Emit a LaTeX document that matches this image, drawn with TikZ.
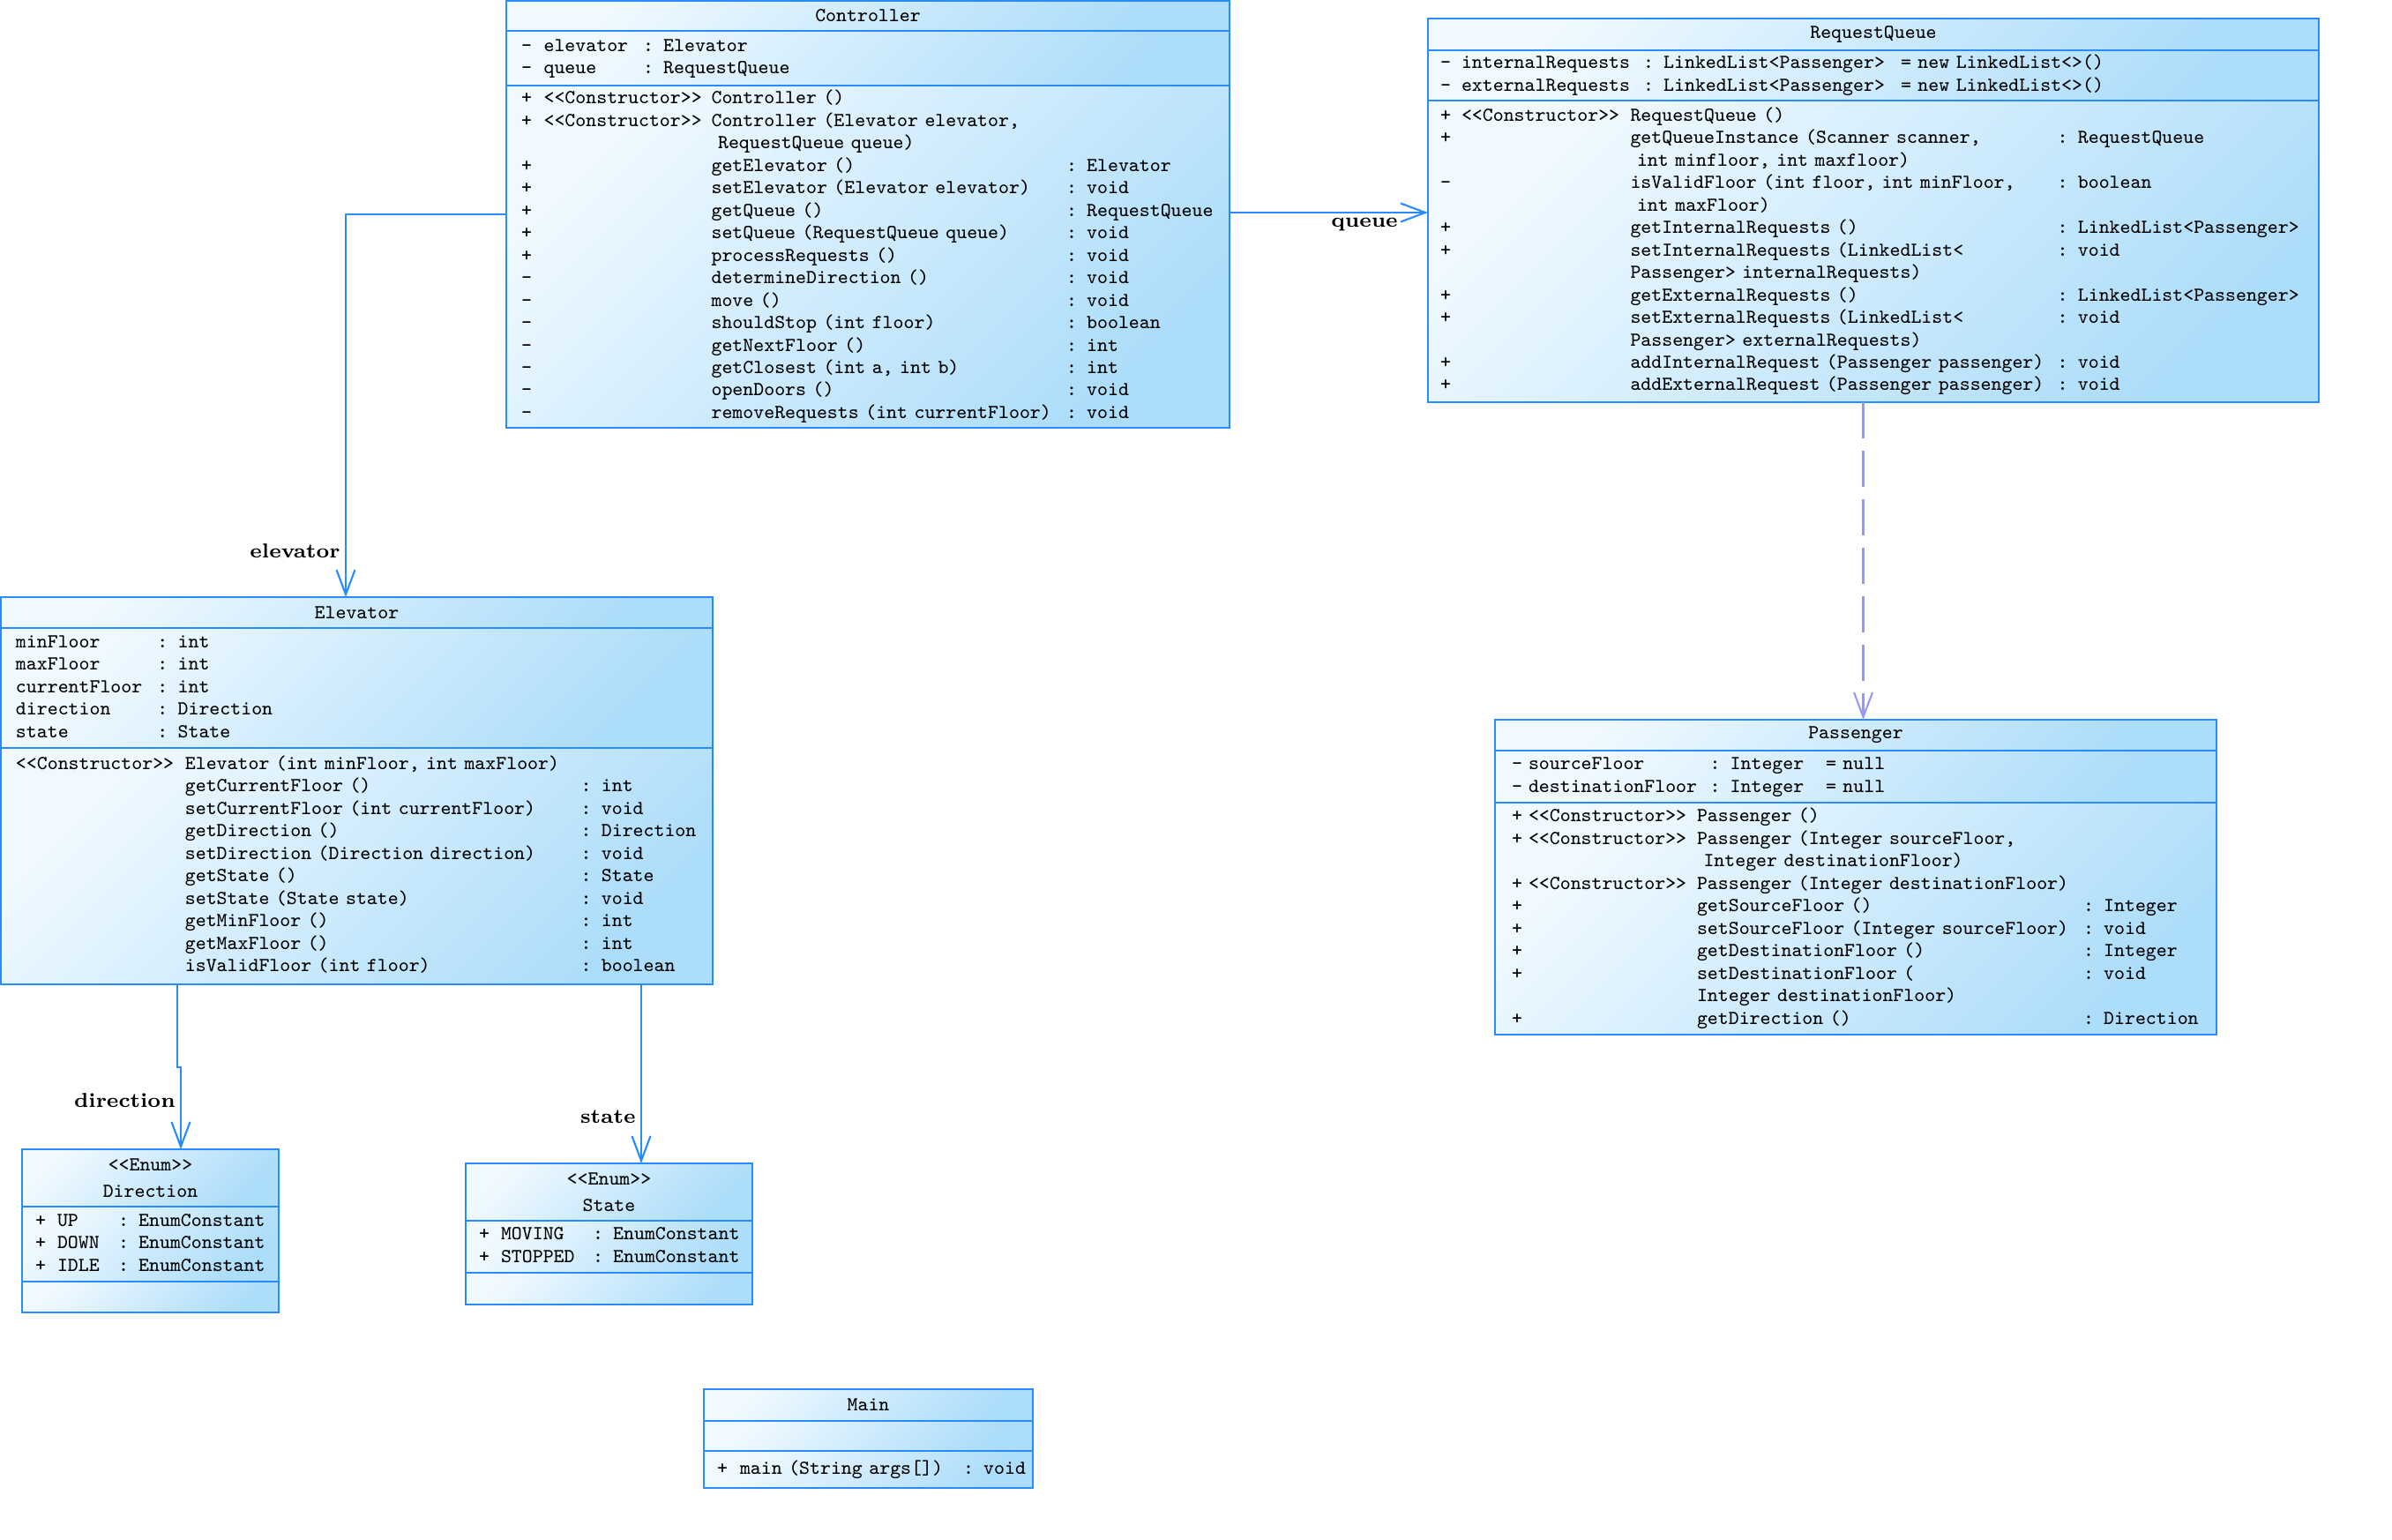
\documentclass[tikz,border=0pt]{standalone}
\usepackage{fontspec}
\usepackage{array}
\usepackage{xcolor}
\usepackage{tikz}
\usetikzlibrary{positioning,arrows.meta,calc}

\definecolor{umlblue}{RGB}{40,140,255}
\definecolor{umllight}{RGB}{240,249,255}
\definecolor{umldark}{RGB}{172,221,250}
\definecolor{deplav}{RGB}{150,150,255}
\newcommand{\umlfont}{\fontsize{6.4}{7.25}\selectfont\ttfamily\spaceskip=3.36pt\relax}
\newcommand{\lblfont}{\fontsize{6.5}{7.25}\selectfont\rmfamily\bfseries}
\newcommand{\stereo}[1]{<\kern0pt<#1>\kern0pt>}
\setlength{\parindent}{0pt}
\setlength{\tabcolsep}{0pt}

\begin{document}
\begin{tikzpicture}[font=\umlfont, >={Straight Barb[length=2.8mm,width=2.1mm]},
  cpt/.style={draw=umlblue, line width=0.8pt, top color=umllight, bottom color=umldark,
    shading angle=45, outer sep=0pt, inner ysep=0pt, align=left},
  ttl/.style={cpt, inner xsep=0pt, align=center},
  assoc/.style={->, draw=umlblue, line width=0.6pt},
  dep/.style={->, draw=deplav, line width=0.6pt, dash pattern=on 4.1mm off 1.4mm},
  lbl/.style={font=\lblfont, inner sep=1.5pt}]
\useasboundingbox (0,0) rectangle (27.12,-17.46);

% Controller
\node[ttl, text width=8.20cm, minimum height=0.34cm, anchor=north west] (ctrl-title) at (5.74,-0.01) {Controller};
\node[cpt, inner xsep=0.17cm, text width=7.86cm, minimum height=0.62cm, below=0pt of ctrl-title] (ctrl-attr) {%
  \begin{tabular}{w{l}{0.256cm}w{l}{1.124cm}l}
  - & elevator & : Elevator\\
  - & queue & : RequestQueue
  \end{tabular}};
\node[cpt, inner xsep=0.17cm, text width=7.86cm, minimum height=3.88cm, below=0pt of ctrl-attr] (ctrl-ops) {%
  \begin{tabular}{w{l}{0.256cm}w{l}{1.90cm}w{l}{4.024cm}l}
  + & \stereo{Constructor} & Controller () & \\
  + & \stereo{Constructor} & Controller (Elevator elevator, & \\
    & & \ RequestQueue queue) & \\
  + & & getElevator () & : Elevator\\
  + & & setElevator (Elevator elevator) & : void\\
  + & & getQueue () & : RequestQueue\\
  + & & setQueue (RequestQueue queue) & : void\\
  + & & processRequests () & : void\\
  - & & determineDirection () & : void\\
  - & & move () & : void\\
  - & & shouldStop (int floor) & : boolean\\
  - & & getNextFloor () & : int\\
  - & & getClosest (int a, int b) & : int\\
  - & & openDoors () & : void\\
  - & & removeRequests (int currentFloor) & : void
  \end{tabular}};

% RequestQueue
\node[ttl, text width=10.10cm, minimum height=0.36cm, anchor=north west] (rq-title) at (16.19,-0.21) {RequestQueue};
\node[cpt, inner xsep=0.14cm, text width=9.82cm, minimum height=0.57cm, below=0pt of rq-title] (rq-attr) {%
  \begin{tabular}{w{l}{0.24cm}w{l}{2.06cm}w{l}{2.92cm}l}
  - & internalRequests & : LinkedList<Passenger> & = new LinkedList<>()\\
  - & externalRequests & : LinkedList<Passenger> & = new LinkedList<>()
  \end{tabular}};
\node[cpt, inner xsep=0.14cm, text width=9.82cm, minimum height=3.42cm, below=0pt of rq-attr] (rq-ops) {%
  \begin{tabular}{w{l}{0.24cm}w{l}{1.915cm}w{l}{4.842cm}l}
  + & \stereo{Constructor} & RequestQueue () & \\
  + & & getQueueInstance (Scanner scanner, & : RequestQueue\\
    & & \ int minfloor, int maxfloor) & \\
  - & & isValidFloor (int floor, int minFloor, & : boolean\\
    & & \ int maxFloor) & \\
  + & & getInternalRequests () & : LinkedList<Passenger>\\
  + & & setInternalRequests (LinkedList< & : void\\
    & & Passenger> internalRequests) & \\
  + & & getExternalRequests () & : LinkedList<Passenger>\\
  + & & setExternalRequests (LinkedList< & : void\\
    & & Passenger> externalRequests) & \\
  + & & addInternalRequest (Passenger passenger) & : void\\
  + & & addExternalRequest (Passenger passenger) & : void
  \end{tabular}};

% Elevator
\node[ttl, text width=8.07cm, minimum height=0.35cm, anchor=north west] (elev-title) at (0.01,-6.77) {Elevator};
\node[cpt, inner xsep=0.17cm, text width=7.73cm, minimum height=1.36cm, below=0pt of elev-title] (elev-attr) {%
  \begin{tabular}{w{l}{1.605cm}l}
  minFloor & : int\\
  maxFloor & : int\\
  currentFloor & : int\\
  direction & : Direction\\
  state & : State
  \end{tabular}};
\node[cpt, inner xsep=0.17cm, text width=7.73cm, minimum height=2.68cm, below=0pt of elev-attr] (elev-ops) {%
  \begin{tabular}{w{l}{1.919cm}w{l}{4.488cm}l}
  \stereo{Constructor} & Elevator (int minFloor, int maxFloor) & \\
  & getCurrentFloor () & : int\\
  & setCurrentFloor (int currentFloor) & : void\\
  & getDirection () & : Direction\\
  & setDirection (Direction direction) & : void\\
  & getState () & : State\\
  & setState (State state) & : void\\
  & getMinFloor () & : int\\
  & getMaxFloor () & : int\\
  & isValidFloor (int floor) & : boolean
  \end{tabular}};

% Passenger
\node[ttl, text width=8.18cm, minimum height=0.35cm, anchor=north west] (pass-title) at (16.95,-8.16) {Passenger};
\node[cpt, inner xsep=0.19cm, text width=7.80cm, minimum height=0.59cm, below=0pt of pass-title] (pass-attr) {%
  \begin{tabular}{w{l}{0.19cm}w{l}{2.055cm}w{l}{1.315cm}l}
  - & sourceFloor & : Integer & = null\\
  - & destinationFloor & : Integer & = null
  \end{tabular}};
\node[cpt, inner xsep=0.19cm, text width=7.80cm, minimum height=2.63cm, below=0pt of pass-attr] (pass-ops) {%
  \begin{tabular}{w{l}{0.19cm}w{l}{1.91cm}w{l}{4.38cm}l}
  + & \stereo{Constructor} & Passenger () & \\
  + & \stereo{Constructor} & Passenger (Integer sourceFloor, & \\
    & & \ Integer destinationFloor) & \\
  + & \stereo{Constructor} & Passenger (Integer destinationFloor) & \\
  + & & getSourceFloor () & : Integer\\
  + & & setSourceFloor (Integer sourceFloor) & : void\\
  + & & getDestinationFloor () & : Integer\\
  + & & setDestinationFloor ( & : void\\
    & & Integer destinationFloor) & \\
  + & & getDirection () & : Direction
  \end{tabular}};

% Direction
\node[ttl, text width=2.91cm, minimum height=0.65cm, anchor=north west] (dir-title) at (0.25,-13.03) {\stereo{Enum}\\[0.05cm]Direction};
\node[cpt, inner xsep=0.15cm, text width=2.61cm, minimum height=0.85cm, below=0pt of dir-title] (dir-attr) {%
  \begin{tabular}{w{l}{0.25cm}w{l}{0.69cm}l}
  + & UP & : EnumConstant\\
  + & DOWN & : EnumConstant\\
  + & IDLE & : EnumConstant
  \end{tabular}};
\node[cpt, inner xsep=0.15cm, text width=2.61cm, minimum height=0.35cm, below=0pt of dir-attr] (dir-ops) {};

% State
\node[ttl, text width=3.25cm, minimum height=0.65cm, anchor=north west] (state-title) at (5.28,-13.19) {\stereo{Enum}\\[0.05cm]State};
\node[cpt, inner xsep=0.15cm, text width=2.95cm, minimum height=0.59cm, below=0pt of state-title] (state-attr) {%
  \begin{tabular}{w{l}{0.25cm}w{l}{1.04cm}l}
  + & MOVING & : EnumConstant\\
  + & STOPPED & : EnumConstant
  \end{tabular}};
\node[cpt, inner xsep=0.15cm, text width=2.95cm, minimum height=0.36cm, below=0pt of state-attr] (state-ops) {};

% Main
\node[ttl, text width=3.73cm, minimum height=0.36cm, anchor=north west] (main-title) at (7.98,-15.75) {Main};
\node[cpt, inner xsep=0.15cm, text width=3.43cm, minimum height=0.34cm, below=0pt of main-title] (main-attr) {};
\node[cpt, inner xsep=0.15cm, text width=3.43cm, minimum height=0.42cm, below=0pt of main-attr] (main-ops) {%
  \begin{tabular}{w{l}{0.26cm}w{l}{2.53cm}l}
  + & main (String args[]) & : void
  \end{tabular}};

% associations
\coordinate (e0) at ($(ctrl-ops.north west)+(0,-1.46)$);
\coordinate (e1) at ($(elev-title.north west)+(3.91,0)$);
\draw[assoc] (e0) -| (e1) node[lbl, pos=0.94, left] {elevator};
\coordinate (q0) at ($(ctrl-ops.north east)+(0,-1.44)$);
\draw[assoc] (q0) -- (q0 -| rq-ops.west) node[lbl, pos=0.68, below] {queue};
\coordinate (p0) at ($(rq-ops.south)+(-0.115,0)$);
\draw[dep] (p0) -- (p0 |- pass-title.north);
\coordinate (d0) at ($(elev-ops.south west)+(2.00,0)$);
\coordinate (d1) at ($(dir-title.north west)+(1.80,0)$);
\draw[assoc] (d0) -- ++(0,-0.94) -| (d1) node[lbl, pos=0.70, left] {direction};
\coordinate (s0) at ($(elev-ops.south west)+(7.26,0)$);
\draw[assoc] (s0) -- (s0 |- state-title.north) node[lbl, pos=0.74, left] {state};
\end{tikzpicture}
\end{document}
